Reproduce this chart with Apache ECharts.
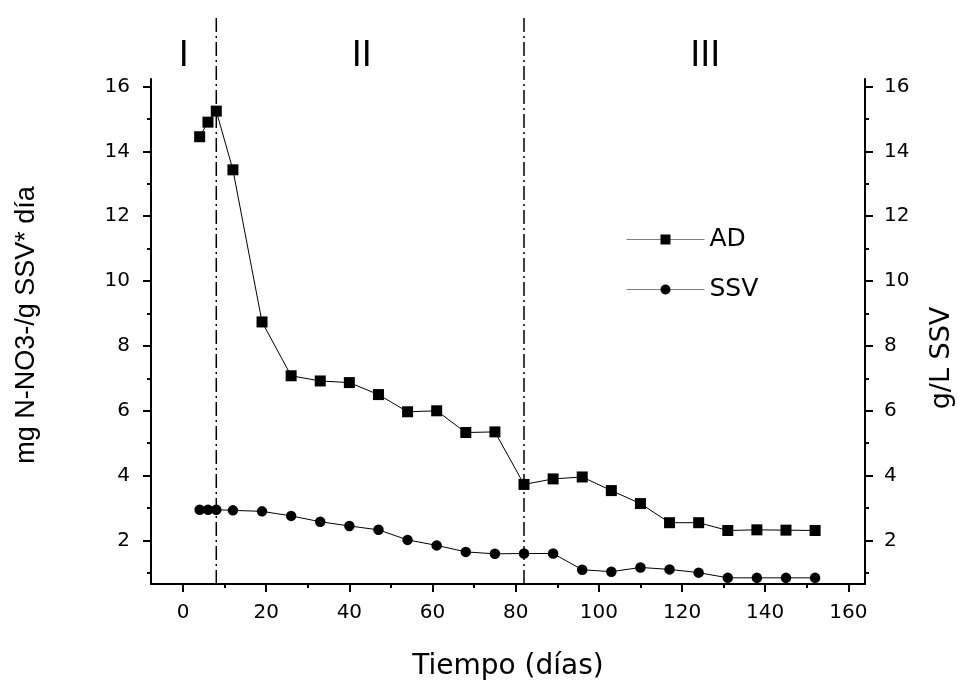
<!DOCTYPE html>
<html>
<head>
<meta charset="utf-8">
<title>AD / SSV</title>
<script src="https://cdn.jsdelivr.net/npm/echarts@6.0.0/dist/echarts.min.js"></script>
<style>
  html, body { margin: 0; padding: 0; background: #fff; }
  #main { width: 958px; height: 681px; }
</style>
</head>
<body>
<div id="main"></div>
<script>
// days of operation
const days = [4, 6, 8, 12, 19, 26, 33, 40, 47, 54, 61, 68, 75, 82, 89, 96, 103, 110, 117, 124, 131, 138, 145, 152];
// mg N-NO3-/g SSV * dia
const adValues = [14.45, 14.9, 15.24, 13.43, 8.74, 7.08, 6.92, 6.87, 6.5, 5.97, 6.0, 5.33, 5.35, 3.73, 3.9, 3.96, 3.54, 3.14, 2.55, 2.55, 2.31, 2.33, 2.32, 2.31];
// g/L SSV
const ssvValues = [2.95, 2.95, 2.95, 2.93, 2.9, 2.76, 2.58, 2.45, 2.33, 2.02, 1.85, 1.65, 1.59, 1.6, 1.6, 1.1, 1.04, 1.17, 1.11, 1.01, 0.85, 0.85, 0.85, 0.85];

const xTicks = [0, 20, 40, 60, 80, 100, 120, 140, 160];
const xMinorTicks = [10, 30, 50, 70, 90, 110, 130, 150];
const yTicks = [2, 4, 6, 8, 10, 12, 14, 16];
const yMinorTicks = [1, 3, 5, 7, 9, 11, 13, 15];

// phase limits and labels
const phaseBounds = [8, 82];
const phaseLabels = ['I', 'II', 'III'];
const phaseLabelX = [0.15, 43, 125.6];
const phaseLabelY = 16.94;

const xMin = -7.7, xMax = 164;
const yMin = 0.66, yMax = 16.23;
const boundTop = 18.17;

const font = '"Liberation Sans", Arial, Helvetica, sans-serif';
const wideFont = '"DejaVu Sans", Verdana, sans-serif';
const black = '#000';

let myChart = echarts.init(document.getElementById('main'));

function majorX() {
    return {
        type: 'value', min: xMin, max: xMax, position: 'bottom',
        splitLine: { show: false },
        axisLine: { show: true, onZero: false, lineStyle: { color: black, width: 2 } },
        axisTick: { show: true, customValues: xTicks, length: 8, lineStyle: { color: black, width: 2 } },
        axisLabel: { customValues: xTicks, margin: 19, fontSize: 20, color: black, fontFamily: wideFont },
        name: 'Tiempo (días)', nameLocation: 'middle', nameGap: 69,
        nameTextStyle: { fontSize: 28, color: black, fontFamily: wideFont }
    };
}
function minorX() {
    return {
        type: 'value', min: xMin, max: xMax, position: 'bottom',
        splitLine: { show: false },
        axisLine: { show: false, onZero: false },
        axisTick: { show: true, customValues: xMinorTicks, length: 4, lineStyle: { color: black, width: 2 } },
        axisLabel: { show: false }
    };
}
function majorY(pos, name, gap, nameFont, pad) {
    return {
        type: 'value', min: yMin, max: yMax, position: pos, offset: 0,
        splitLine: { show: false },
        axisLine: { show: true, onZero: false, lineStyle: { color: black, width: 2 } },
        axisTick: { show: true, customValues: yTicks, length: 8, lineStyle: { color: black, width: 2 } },
        axisLabel: { customValues: yTicks, margin: pos === 'left' ? 21 : 19, fontSize: 20, color: black, fontFamily: wideFont },
        name: name, nameLocation: 'middle', nameGap: gap,
        nameTextStyle: { fontSize: 27, color: black, fontFamily: nameFont, padding: pad }
    };
}
function minorY(pos) {
    return {
        type: 'value', min: yMin, max: yMax, position: pos, offset: 0,
        splitLine: { show: false },
        axisLine: { show: false, onZero: false },
        axisTick: { show: true, customValues: yMinorTicks, length: 4, lineStyle: { color: black, width: 2 } },
        axisLabel: { show: false }
    };
}

let option = {
    animation: false,
    backgroundColor: '#fff',
    grid: { left: 151, right: 93, top: 79, bottom: 97, containLabel: false, outerBoundsMode: 'none' },
    legend: {
        data: ['AD', 'SSV'],
        orient: 'vertical',
        left: 621, top: 222,
        itemWidth: 78, itemHeight: 12.5, itemGap: 25,
        textStyle: { fontSize: 25, color: black, fontFamily: wideFont },
        lineStyle: { color: '#808080', width: 1 },
        itemStyle: { color: black }
    },
    xAxis: [majorX(), minorX()],
    yAxis: [
        majorY('left', 'mg N-NO3-/g SSV* día', 111, font, [0, 0, 0, 13]),
        minorY('left'),
        majorY('right', 'g/L SSV', 63, wideFont, [0, 53, 0, 0]),
        minorY('right')
    ],
    series: [
        {
            name: 'AD', type: 'line', z: 4,
            data: days.map((d, i) => [d, adValues[i]]),
            symbol: 'rect', symbolSize: 11,
            itemStyle: { color: black },
            lineStyle: { color: black, width: 1 }
        },
        {
            name: 'SSV', type: 'line', z: 4,
            data: days.map((d, i) => [d, ssvValues[i]]),
            symbol: 'circle', symbolSize: 10.5,
            itemStyle: { color: black },
            lineStyle: { color: black, width: 1 }
        }
    ]
};

// dash-dot phase dividers
phaseBounds.forEach((b) => {
    option.series.push({
        name: 'limit' + b, type: 'line', z: 2, silent: true, clip: false,
        symbol: 'none',
        data: [[b, yMin], [b, boundTop]],
        lineStyle: { color: black, width: 1.5, type: [14, 4, 2, 4] }
    });
});

// phase numerals above the plot
option.series.push({
    name: 'phases', type: 'scatter', z: 5, silent: true, clip: false,
    symbolSize: 1,
    itemStyle: { color: 'rgba(0,0,0,0)', opacity: 1 },
    data: phaseLabelX.map((x, i) => ({ name: phaseLabels[i], value: [x, phaseLabelY] })),
    label: {
        show: true, position: 'inside', formatter: '{b}',
        fontSize: 36, color: black, opacity: 1, fontFamily: font
    }
});

myChart.setOption(option);
</script>
</body>
</html>
